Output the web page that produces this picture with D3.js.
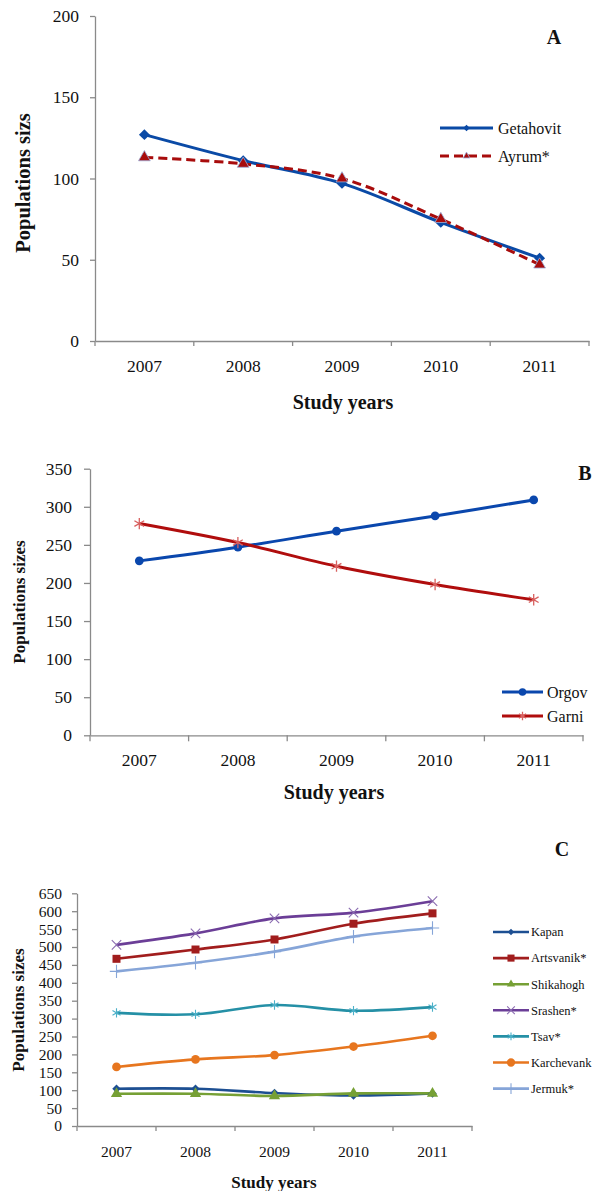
<!DOCTYPE html>
<html>
<head>
<meta charset="utf-8">
<script src="https://cdn.jsdelivr.net/npm/d3@7"></script>
<style>
  html, body { margin: 0; padding: 0; background: #fff; }
  svg { display: block; }
</style>
</head>
<body>
<svg id="fig" width="602" height="1191"></svg>
<script>
// Study years shared by all three panels
const years = ["2007", "2008", "2009", "2010", "2011"];

// Panel A populations
const getahovit = [127, 111, 97, 73, 51];
const ayrum = [113, 109, 100, 75, 47];
const ticksA = [0, 50, 100, 150, 200];

// Panel B populations
const orgov = [229, 247, 268, 288, 309];
const garni = [278, 253, 222, 198, 178];
const ticksB = [0, 50, 100, 150, 200, 250, 300, 350];

// Panel C populations
const kapan = [104, 104, 92, 85, 91];
const artsvanik = [467, 493, 521, 565, 594];
const shikahogh = [90, 90, 84, 91, 91];
const srashen = [506, 538, 580, 596, 628];
const tsav = [316, 312, 338, 322, 332];
const karchevank = [165, 186, 198, 222, 252];
const jermuk = [432, 456, 487, 529, 553];
const ticksC = [0, 50, 100, 150, 200, 250, 300, 350, 400, 450, 500, 550, 600, 650];

const SERIF = "'Liberation Serif', 'Times New Roman', Times, serif";
const svg = d3.select("#fig").style("font-family", SERIF);
const axisColor = "#8a8a8a";

// marker shapes
function markerPath(kind, size) {
  const t = {
    diamond: d3.symbolSquare, triangle: d3.symbolTriangle, square: d3.symbolSquare,
    circle: d3.symbolCircle, times: d3.symbolTimes, asterisk: d3.symbolAsterisk, plus: d3.symbolPlus
  }[kind];
  return d3.symbol().type(t).size(size)();
}
function drawMarker(g, kind, cx, cy, size, s) {
  const stroked = ["times", "asterisk", "plus"].includes(kind);
  const rot = kind === "diamond" ? " rotate(45)" : "";
  const p = g.append("path")
    .attr("d", markerPath(kind, size))
    .attr("transform", `translate(${cx},${cy})${rot}`);
  if (stroked) {
    p.attr("fill", "none").attr("stroke", s.markerColor || s.color).attr("stroke-width", s.markerStroke || 1.2);
  } else {
    p.attr("fill", s.markerColor || s.color)
     .attr("stroke", s.markerEdge || "none").attr("stroke-width", s.markerEdge ? 0.8 : 0);
  }
}
function serifText(sel, size) {
  return sel.style("font-family", SERIF).style("font-size", size + "px").style("fill", "#111");
}

function drawPanel(cfg) {
  const x = d3.scaleBand().domain(years).range([cfg.x0, cfg.x1]).padding(0);
  const y = d3.scaleLinear().domain([0, cfg.yMax]).range([cfg.yBottom, cfg.yTop]);
  const g = svg.append("g");

  // y axis
  const ya = g.append("g")
    .attr("transform", `translate(${cfg.x0},0)`)
    .call(d3.axisLeft(y).tickValues(cfg.ticks).tickSize(cfg.tickLen).tickSizeOuter(0).tickPadding(cfg.yPad));
  ya.attr("font-family", null).attr("font-size", null);
  ya.select(".domain").attr("stroke", axisColor).attr("stroke-width", 1.3);
  ya.selectAll(".tick line").attr("stroke", axisColor).attr("stroke-width", 1.3);
  serifText(ya.selectAll(".tick text"), cfg.tickFont);

  // x axis: labels at category centres, tick marks at category boundaries
  const xa = g.append("g")
    .attr("transform", `translate(0,${cfg.yBottom})`)
    .call(d3.axisBottom(x).tickSize(0).tickSizeOuter(0).tickPadding(cfg.xPad));
  xa.attr("font-family", null).attr("font-size", null);
  xa.select(".domain").attr("stroke", axisColor).attr("stroke-width", 1.3);
  serifText(xa.selectAll(".tick text"), cfg.tickFont);
  const bounds = years.map(d => x(d)).concat([x.range()[1]]);
  g.selectAll(null).data(bounds).enter().append("line")
    .attr("x1", d => d).attr("x2", d => d)
    .attr("y1", cfg.yBottom).attr("y2", cfg.yBottom + cfg.tickLen)
    .attr("stroke", axisColor).attr("stroke-width", 1.3);

  // series
  const cx = d => x(d) + x.bandwidth() / 2;
  cfg.series.forEach(s => {
    const pts = years.map((yr, i) => [cx(yr), y(s.values[i])]);
    g.append("path")
      .attr("d", d3.line().curve(d3.curveCatmullRom.alpha(0.5))(pts))
      .attr("fill", "none").attr("stroke", s.color).attr("stroke-width", s.width)
      .attr("stroke-dasharray", s.dash || null).attr("stroke-linejoin", "round");
  });
  cfg.series.forEach(s => {
    years.forEach((yr, i) => drawMarker(g, s.marker, cx(yr), y(s.values[i]), s.size, s));
  });

  // legend
  cfg.series.forEach((s, i) => {
    const ly = cfg.legend.y + i * cfg.legend.dy;
    g.append("line")
      .attr("x1", cfg.legend.x0).attr("x2", cfg.legend.x1)
      .attr("y1", ly).attr("y2", ly)
      .attr("stroke", s.color).attr("stroke-width", s.width)
      .attr("stroke-dasharray", s.dash || null);
    drawMarker(g, s.marker, (cfg.legend.x0 + cfg.legend.x1) / 2, ly, s.legendSize || s.size * 0.5, s);
    serifText(g.append("text"), cfg.legend.font)
      .attr("x", cfg.legend.x1 + cfg.legend.gap).attr("y", ly)
      .attr("dy", "0.35em")
      .text(s.name);
  });

  // axis titles
  serifText(g.append("text"), cfg.xTitleFont)
    .attr("x", cfg.xTitle[0]).attr("y", cfg.xTitle[1])
    .attr("text-anchor", "middle").style("font-weight", "bold")
    .text("Study years");
  serifText(g.append("text"), cfg.yTitleFont)
    .attr("transform", `translate(${cfg.yTitle[0]},${cfg.yTitle[1]}) rotate(-90)`)
    .attr("text-anchor", "middle").style("font-weight", "bold")
    .text(cfg.yTitleText);

  // panel letter
  serifText(g.append("text"), 20)
    .attr("x", cfg.letter[0]).attr("y", cfg.letter[1])
    .attr("text-anchor", "middle").style("font-weight", "bold")
    .text(cfg.letterText);
}

// Panel A
drawPanel({
  x0: 95, x1: 589, yTop: 16, yBottom: 341, yMax: 200, ticks: ticksA,
  tickLen: 5, yPad: 11, xPad: 19, tickFont: 17.5,
  series: [
    { name: "Getahovit", values: getahovit, color: "#0a4aa6", width: 3, marker: "diamond", size: 60, legendSize: 22 },
    { name: "Ayrum*", values: ayrum, color: "#a80c0c", width: 3, dash: "9,5", marker: "triangle", size: 60, legendSize: 20, markerEdge: "#9ab0dc" }
  ],
  legend: { x0: 440, x1: 493, y: 128, dy: 28, gap: 5, font: 16 },
  xTitle: [343, 409], xTitleFont: 20,
  yTitle: [30, 183], yTitleFont: 20.5, yTitleText: "Populations sizs",
  letter: [554, 44], letterText: "A"
});

// Panel B
drawPanel({
  x0: 90, x1: 583, yTop: 468.7, yBottom: 735.3, yMax: 350, ticks: ticksB,
  tickLen: 6, yPad: 12, xPad: 18.5, tickFont: 17.5,
  series: [
    { name: "Orgov", values: orgov, color: "#0a47ad", width: 3, marker: "circle", size: 60, legendSize: 45 },
    { name: "Garni", values: garni, color: "#b00d0d", width: 3, marker: "asterisk", size: 90, legendSize: 50, markerColor: "#d8605f", markerStroke: 1.3 }
  ],
  legend: { x0: 502, x1: 543, y: 692, dy: 24, gap: 4, font: 16 },
  xTitle: [334, 799], xTitleFont: 20,
  yTitle: [25, 602], yTitleFont: 17, yTitleText: "Populations sizes",
  letter: [585, 480], letterText: "B"
});

// Panel C
drawPanel({
  x0: 77, x1: 472, yTop: 893.3, yBottom: 1126, yMax: 650, ticks: ticksC,
  tickLen: 5, yPad: 10, xPad: 19.5, tickFont: 15.5,
  series: [
    { name: "Kapan", values: kapan, color: "#1d4f92", width: 2.6, marker: "diamond", size: 36, legendSize: 20 },
    { name: "Artsvanik*", values: artsvanik, color: "#a11d1d", width: 2.6, marker: "square", size: 64, legendSize: 50 },
    { name: "Shikahogh", values: shikahogh, color: "#76a035", width: 2.6, marker: "triangle", size: 55, legendSize: 30 },
    { name: "Srashen*", values: srashen, color: "#6b3e97", width: 2.6, marker: "times", size: 60, legendSize: 40, markerColor: "#8a6bb0", markerStroke: 1.1 },
    { name: "Tsav*", values: tsav, color: "#2590a6", width: 2.6, marker: "asterisk", size: 60, legendSize: 40, markerColor: "#4bb0c8", markerStroke: 1.1 },
    { name: "Karchevank", values: karchevank, color: "#e7761f", width: 2.6, marker: "circle", size: 60, legendSize: 55 },
    { name: "Jermuk*", values: jermuk, color: "#86a5d8", width: 2.6, marker: "plus", size: 60, legendSize: 40, markerColor: "#86a5d8", markerStroke: 1.1 }
  ],
  legend: { x0: 493, x1: 529, y: 932, dy: 26.1, gap: 2, font: 12.5 },
  xTitle: [274, 1188], xTitleFont: 17,
  yTitle: [24, 1010], yTitleFont: 17, yTitleText: "Populations sizes",
  letter: [562, 856], letterText: "C"
});
</script>
</body>
</html>
